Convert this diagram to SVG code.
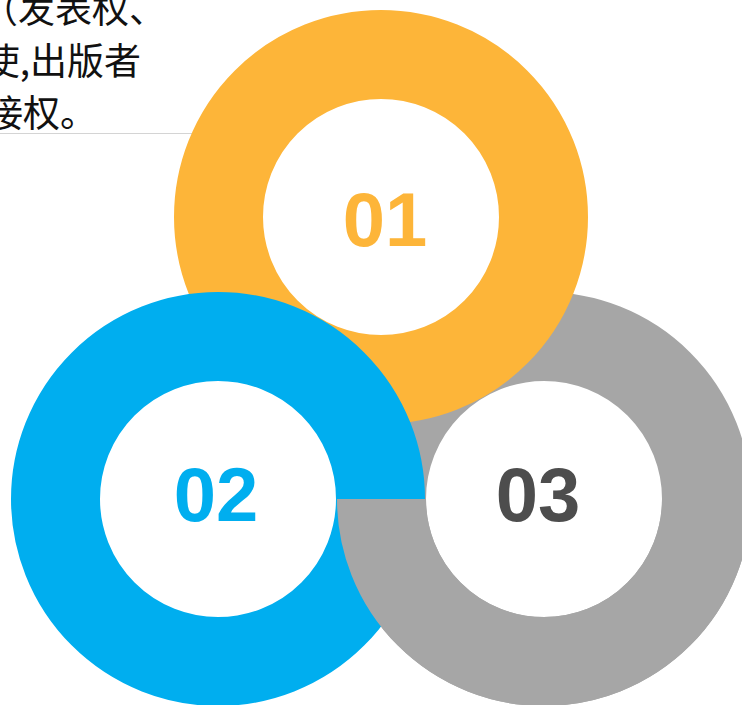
<svg xmlns="http://www.w3.org/2000/svg" xmlns:xlink="http://www.w3.org/1999/xlink" width="742" height="705" viewBox="0 0 742 705">
<style>
.ring{fill:none;stroke-width:89}
.num{font-family:"Liberation Sans",Arial,sans-serif;font-weight:bold;font-size:76px;text-anchor:middle}
.cn{font-family:"Noto Sans CJK SC","Noto Sans",sans-serif;font-size:37px;fill:#111111}
</style>
<defs>
<clipPath id="lowerHalf"><rect x="0" y="499" width="742" height="206"/></clipPath>
</defs>
<rect width="742" height="705" fill="#ffffff"/>
<g id="caption">
<text class="cn" x="166" y="23" text-anchor="end">（发表权、</text>
<text class="cn" x="141" y="75" text-anchor="end">使,出版者</text>
<text class="cn" x="97" y="127" text-anchor="end">接权。</text>
<text class="cn" x="-16" y="526">，</text>
</g>
<g id="connectors">
<line x1="0" y1="133.5" x2="207" y2="133.5" stroke="#d4d4d4" stroke-width="1"/>
</g>
<g id="node-03">
<circle id="ring03" class="ring" cx="544" cy="499" r="162.5" stroke="#a6a6a6"/>
<text class="num" x="538" y="521" fill="#4d4d4d">03</text>
</g>
<g id="node-01">
<circle class="ring" cx="381" cy="217" r="162.5" stroke="#fdb539"/>
<text class="num" x="385" y="246" fill="#fdb539">01</text>
</g>
<g id="node-02">
<circle class="ring" cx="218" cy="499" r="162.5" stroke="#00aeef"/>
<text class="num" x="216" y="521" fill="#00aeef">02</text>
</g>
<g id="node-03-overlap">
<use xlink:href="#ring03" clip-path="url(#lowerHalf)"/>
</g>
</svg>
